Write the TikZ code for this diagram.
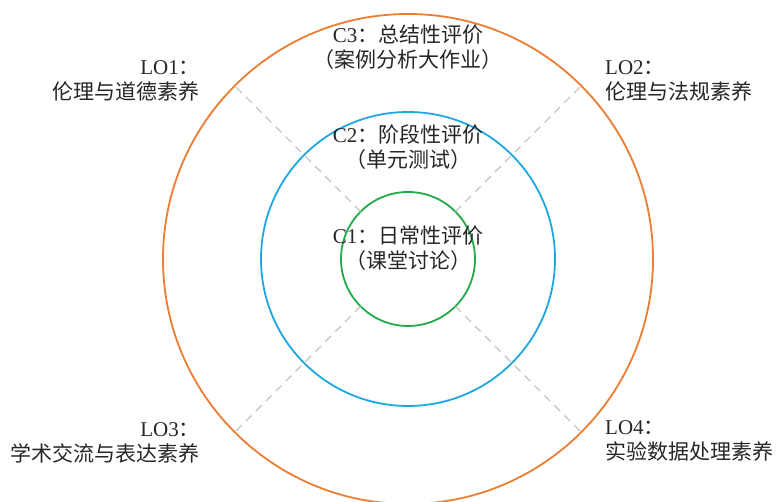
\documentclass[tikz,border=0pt]{standalone}
\usepackage{fontspec}
\setmainfont{Liberation Serif}
\newfontfamily\cjk{Noto Sans CJK SC}
\definecolor{orangeC}{HTML}{ED7D31}
\definecolor{blueC}{HTML}{1FA7E1}
\definecolor{greenC}{HTML}{22AA4A}
\definecolor{dashgray}{HTML}{C4C4C4}
\tikzset{
  ring/.style={circle,draw,line width=1.8pt,inner sep=0pt,outer sep=0pt},
  guide/.style={draw=dashgray,line width=1.2pt,dash pattern=on 8pt off 6pt},
  lbl/.style={inner sep=0pt,font=\fontsize{21}{25}\selectfont,text=black!85}
}
\begin{document}
\begin{tikzpicture}[x=1pt,y=1pt]
\useasboundingbox (0,0) rectangle (776,502);
\coordinate (c) at (408,243);
\node[ring,draw=orangeC,minimum size=490pt] (outer) at (c) {};
\node[ring,draw=blueC,minimum size=294pt] (middle) at (c) {};
\node[ring,draw=greenC,minimum size=134pt] (inner) at (c) {};
\draw[guide] (inner.135) -- (outer.135);
\draw[guide] (inner.45) -- (outer.45);
\draw[guide] (inner.225) -- (outer.225);
\draw[guide] (inner.315) -- (outer.315);
\node[lbl,align=center] (c3) at (408,455) {C3{\cjk ：总结性评价}\\{\cjk （案例分析大作业）}};
\node[lbl,align=center] (c2) at (408,354.5) {C2{\cjk ：阶段性评价}\\{\cjk （单元测试）}};
\node[lbl,align=center] (c1) at (408,254) {C1{\cjk ：日常性评价}\\{\cjk （课堂讨论）}};
\node[lbl,align=right,anchor=east] (lo1) at (200,421.5) {LO1{\cjk ：}\\{\cjk 伦理与道德素养}};
\node[lbl,align=left,anchor=west] (lo2) at (605,421.5) {LO2{\cjk ：}\\{\cjk 伦理与法规素养}};
\node[lbl,align=right,anchor=east] (lo3) at (200,59.5) {LO3{\cjk ：}\\{\cjk 学术交流与表达素养}};
\node[lbl,align=left,anchor=west] (lo4) at (605,61.5) {LO4{\cjk ：}\\{\cjk 实验数据处理素养}};
\end{tikzpicture}
\end{document}
